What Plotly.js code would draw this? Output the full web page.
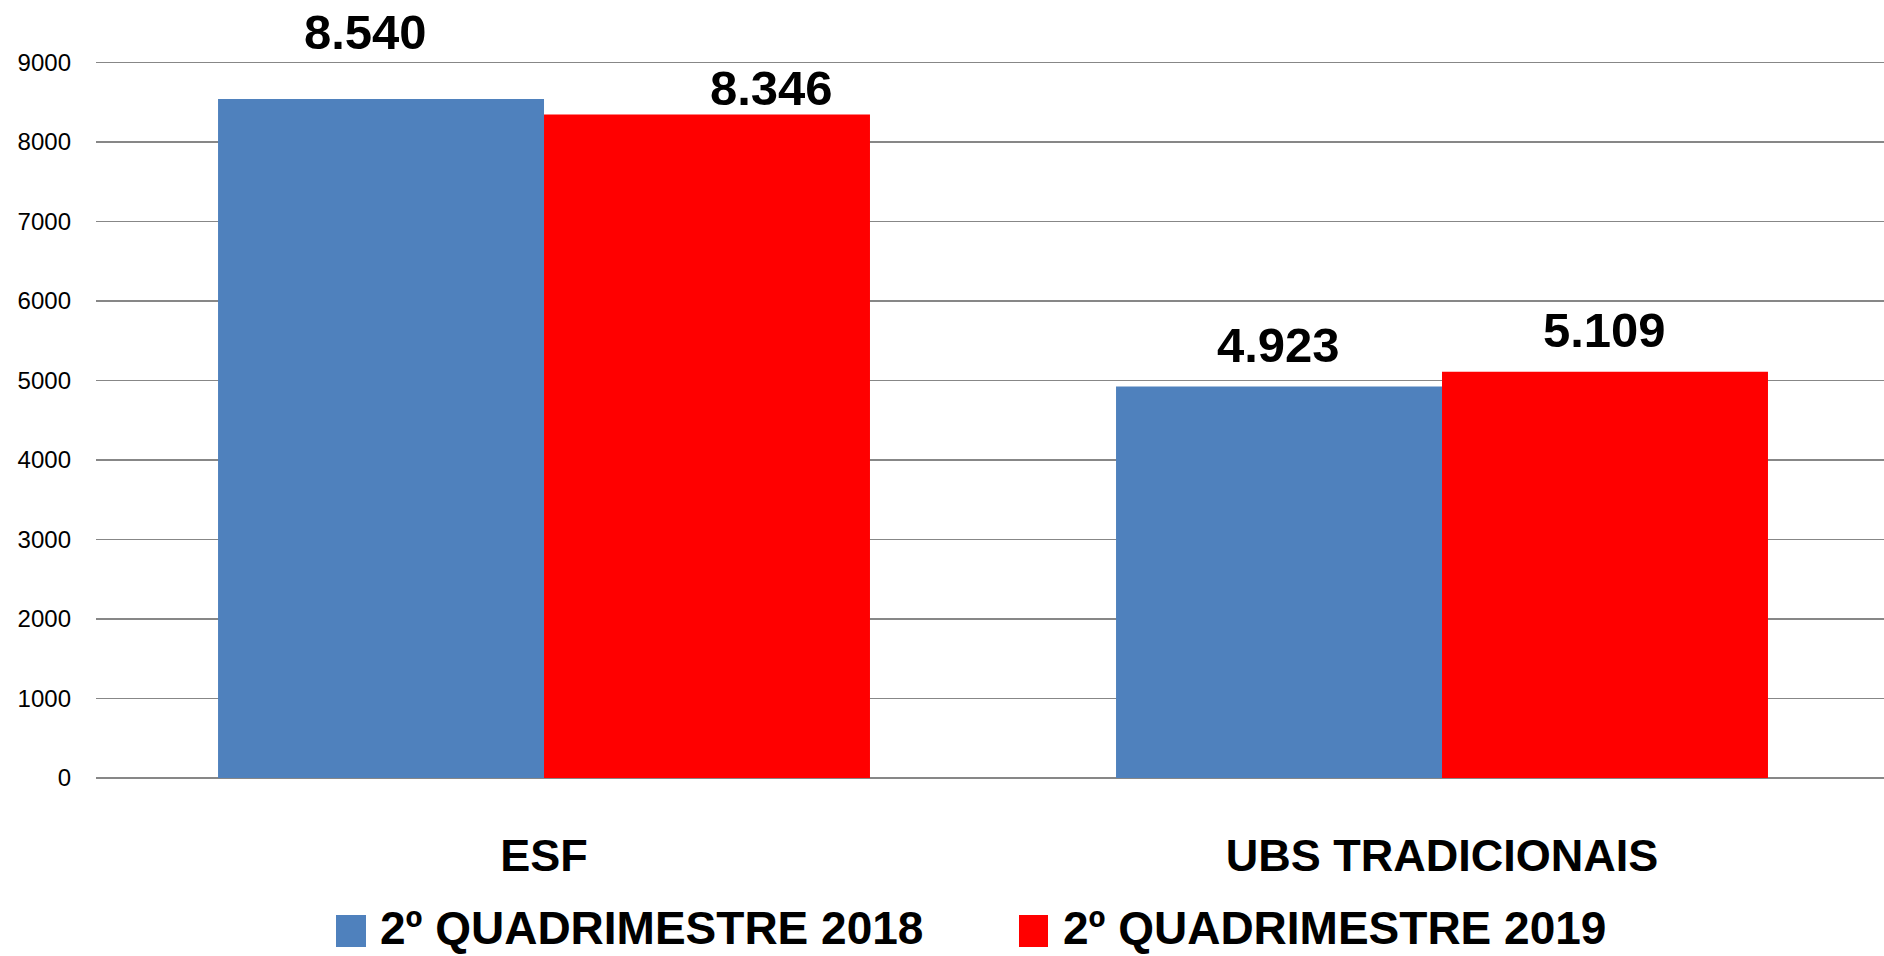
<!DOCTYPE html>
<html>
<head>
<meta charset="utf-8">
<script src="https://cdn.plot.ly/plotly-3.0.1.min.js"></script>
<style>html,body{margin:0;padding:0;background:#fff;}#chart{width:1884px;height:956px;}</style>
</head>
<body>
<div id="chart"></div>
<script>
// ---- data ----
const categories = ["ESF", "UBS TRADICIONAIS"];
const seriesNames = ["2º QUADRIMESTRE 2018", "2º QUADRIMESTRE 2019"];
const values2018 = [8540, 4923];
const values2019 = [8346, 5109];
const yTicks = [0, 1000, 2000, 3000, 4000, 5000, 6000, 7000, 8000, 9000];

// ---- style ----
const colors = ["#4F81BD", "#FF0000"];
const FONT = "'Liberation Sans', Arial, sans-serif";
const W = 1884, H = 956, ML = 96, MR = 0, MT = 0, MB = 178;
const plotW = W - ML - MR, plotH = H - MT - MB;
const px2x = p => (p - ML) / plotW;
const px2y = p => (H - MB - p) / plotH;

// label offsets (pixels) per series per category
const labelXShift = [[-179, -164], [227, 162]];
const labelYShift = [[67, 42], [26, 42]];

const seriesValues = [values2018, values2019];
const fmt = v => (v / 1000).toFixed(3);

const traces = seriesValues.map((vals, i) => ({
  type: "bar",
  x: categories,
  y: vals,
  name: seriesNames[i],
  marker: {color: colors[i], line: {width: 0}},
  showlegend: false,
  hoverinfo: "x+y"
}));

const annotations = [];
seriesValues.forEach((vals, i) => {
  vals.forEach((v, j) => {
    annotations.push({
      xref: "x", yref: "y", x: categories[j], y: v,
      text: fmt(v), showarrow: false,
      xanchor: "center", yanchor: "middle",
      xshift: labelXShift[i][j], yshift: labelYShift[i][j],
      font: {family: FONT, size: 49, color: "#000", weight: "bold"}
    });
  });
});

// manual legend
const legendSquare = [[336, 366], [1019, 1048]];
const legendTextX = [378, 1061];
const legendY = [915, 947];
const shapes = [];
seriesNames.forEach((n, i) => {
  shapes.push({
    type: "rect", xref: "paper", yref: "paper",
    x0: px2x(legendSquare[i][0]), x1: px2x(legendSquare[i][1]),
    y0: px2y(legendY[1]), y1: px2y(legendY[0]),
    fillcolor: colors[i], line: {width: 0}
  });
  annotations.push({
    xref: "paper", yref: "paper",
    x: px2x(legendTextX[i]), y: px2y(928),
    xanchor: "left", yanchor: "middle",
    text: n, showarrow: false,
    font: {family: FONT, size: 46, color: "#000", weight: "bold"}
  });
});

const layout = {
  width: W, height: H, autosize: false,
  margin: {l: ML, r: MR, t: MT, b: MB, pad: 0},
  paper_bgcolor: "#fff", plot_bgcolor: "#fff",
  barmode: "group", bargap: 0.274, bargroupgap: 0,
  showlegend: false,
  xaxis: {
    type: "category",
    range: [-0.4989, 1.4922],
    showgrid: false, showline: false, zeroline: false, ticks: "",
    tickfont: {family: FONT, size: 45, color: "#000", weight: "bold"},
    ticklabelstandoff: 47
  },
  yaxis: {
    range: [0, 9786],
    tickvals: yTicks, ticktext: yTicks.map(String),
    showgrid: true, gridcolor: "#878787", gridwidth: 1.5,
    zeroline: true, zerolinecolor: "#878787", zerolinewidth: 1.5,
    showline: false, ticks: "",
    tickfont: {family: FONT, size: 24, color: "#000"},
    ticklabelstandoff: 24
  },
  annotations: annotations,
  shapes: shapes,
  font: {family: FONT}
};

Plotly.newPlot("chart", traces, layout, {displayModeBar: false, staticPlot: true});
</script>
</body>
</html>
